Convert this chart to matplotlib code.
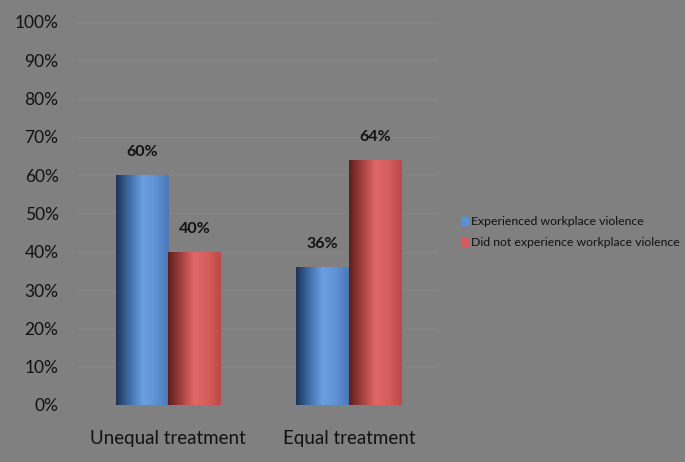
import numpy as np
import matplotlib.pyplot as plt
from matplotlib.colors import LinearSegmentedColormap
from matplotlib.patches import Patch

categories = ["Unequal treatment", "Equal treatment"]
series_names = ["Experienced workplace violence", "Did not experience workplace violence"]
experienced = [60, 36]
not_experienced = [40, 64]

plt.rcParams['font.family'] = ['Lato', 'DejaVu Sans']

bg = '#808080'
fig = plt.figure(figsize=(6.85, 4.62), dpi=100, facecolor=bg)
ax = fig.add_axes([0.1139, 0.1234, 0.527, 0.829], facecolor=bg)

x = np.arange(len(categories))
w = 0.29

blue_cmap = LinearSegmentedColormap.from_list(
    'b', ['#1c3454', '#3f6ca6', '#6a9fe2', '#5f92d4', '#4a78b6'])
red_cmap = LinearSegmentedColormap.from_list(
    'r', ['#5e1e1e', '#a44040', '#e06868', '#d45e5c', '#b84a48'])

bars1 = ax.bar(x - w / 2, experienced, w, color='#5b8fd6', zorder=2)
bars2 = ax.bar(x + w / 2, not_experienced, w, color='#d45c5a', zorder=2)

# cylinder-like shading: gradient image clipped to each bar
grad = np.linspace(0, 1, 256).reshape(1, -1)
for bars, cmap in [(bars1, blue_cmap), (bars2, red_cmap)]:
    for b in bars:
        x0, y0 = b.get_x(), b.get_y()
        im = ax.imshow(grad, cmap=cmap, aspect='auto', zorder=3,
                       extent=[x0, x0 + b.get_width(), y0, y0 + b.get_height()])
        im.set_clip_path(b)

for bars, vals in [(bars1, experienced), (bars2, not_experienced)]:
    for b, v in zip(bars, vals):
        ax.text(b.get_x() + b.get_width() / 2, v + 4.2, f"{v}%",
                ha='center', va='bottom', fontsize=11.5, fontweight='bold',
                color='#111111')

ax.set_xlim(-0.5, 1.5)
ax.set_ylim(0, 100)
ax.set_yticks(np.arange(0, 101, 10))
ax.set_yticklabels([f"{t}%" for t in range(0, 101, 10)])
ax.set_xticks(x)
ax.set_xticklabels(categories)
ax.tick_params(axis='y', length=0, pad=14, labelsize=12.5, colors='#111111')
ax.tick_params(axis='x', length=0, pad=18, labelsize=13.5, colors='#111111')
ax.yaxis.grid(True, color='#868686', linewidth=1, zorder=0)
ax.set_axisbelow(True)
for s in ax.spines.values():
    s.set_visible(False)

handles = [Patch(color='#5b8fd6'), Patch(color='#d45c5a')]
fig.legend(handles, series_names, loc='center left',
           bbox_to_anchor=(0.657, 0.497), frameon=False, fontsize=8.8,
           handlelength=0.55, handleheight=0.55, handletextpad=0.3,
           labelspacing=0.8, labelcolor='#111111')

fig.savefig('out.png', dpi=100, facecolor=bg)
